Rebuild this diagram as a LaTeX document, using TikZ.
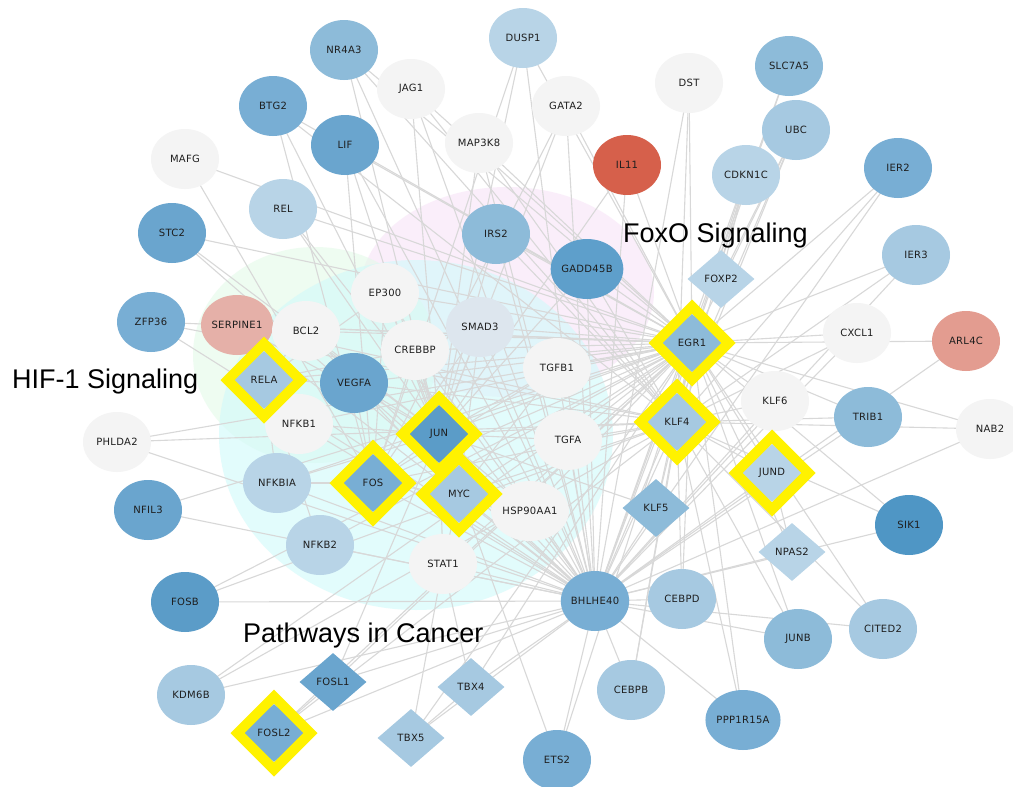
\documentclass[tikz,border=0pt]{standalone}
\usepackage{fontspec}
\usetikzlibrary{shapes.geometric}
\newfontfamily\labfont[LetterSpace=3]{DejaVu Sans}
\newfontfamily\titfont{Liberation Sans}
\pgfdeclarelayer{bglayer}
\pgfdeclarelayer{edgelayer}
\pgfsetlayers{bglayer,edgelayer,main}
\definecolor{wht}{HTML}{F4F4F4}
\definecolor{cA}{HTML}{4F96C5}
\definecolor{cB}{HTML}{5B9CC8}
\definecolor{cC}{HTML}{5E9FCB}
\definecolor{cD}{HTML}{6AA5CE}
\definecolor{cE}{HTML}{78AED4}
\definecolor{cF}{HTML}{8DBBD9}
\definecolor{cG}{HTML}{A6C9E1}
\definecolor{cH}{HTML}{B8D4E7}
\definecolor{cI}{HTML}{DDE6EE}
\definecolor{redn}{HTML}{D6604B}
\definecolor{salm}{HTML}{E39C90}
\definecolor{rosen}{HTML}{E5B0A8}
\definecolor{edgegray}{HTML}{D8D8D8}
\definecolor{pinkbg}{HTML}{F8E4F8}
\definecolor{greenbg}{HTML}{E3FAE9}
\definecolor{cyanbg}{HTML}{D0FAFA}
\definecolor{labtxt}{HTML}{1E1E1E}
\tikzset{
  lab/.style={font=\labfont\fontsize{10}{12}\selectfont, text=labtxt},
  cnode/.style={ellipse, draw=none, minimum width=68pt, minimum height=60pt, inner sep=0pt, lab},
  dnode/.style={diamond, draw=none, minimum width=67pt, minimum height=58pt, inner sep=0pt, lab},
  yframe/.style={diamond, draw=yellow, line width=10pt, minimum width=77pt, minimum height=77pt, inner sep=0pt},
  edge/.style={draw=edgegray, line width=1.1pt},
  blob/.style={fill opacity=0.6, draw=none},
  title/.style={font=\titfont\fontsize{27}{30}\selectfont, text=black, inner sep=0pt}
}
\begin{document}
\begin{tikzpicture}[x=1pt, y=-1pt]
\useasboundingbox (0,0) rectangle (1013,787);
\begin{pgfonlayer}{bglayer}
\fill[white] (0,0) rectangle (1013,787);
\fill[pinkbg, blob] (507,292) ellipse [x radius=147, y radius=105];
\fill[greenbg, blob] (315,355) ellipse [x radius=122, y radius=108];
\fill[cyanbg, blob] (416,435) ellipse [x radius=197, y radius=175];
\end{pgfonlayer}
% circle nodes
\node[cnode, fill=cF] (NR4A3) at (344,50) {NR4A3};
\node[cnode, fill=wht] (JAG1) at (411,89) {JAG1};
\node[cnode, fill=cE] (BTG2) at (273,106) {BTG2};
\node[cnode, fill=cD] (LIF) at (345,145) {LIF};
\node[cnode, fill=wht] (MAP3K8) at (479,143) {MAP3K8};
\node[cnode, fill=wht] (MAFG) at (185,159) {MAFG};
\node[cnode, fill=cH] (REL) at (283,209) {REL};
\node[cnode, fill=cD] (STC2) at (172,233) {STC2};
\node[cnode, fill=cF] (IRS2) at (496,234) {IRS2};
\node[cnode, fill=wht] (EP300) at (385,293) {EP300};
\node[cnode, fill=cE] (ZFP36) at (151,322) {ZFP36};
\node[cnode, fill=rosen] (SERPINE1) at (237,325) {SERPINE1};
\node[cnode, fill=wht] (BCL2) at (306,331) {BCL2};
\node[cnode, fill=cI] (SMAD3) at (480,327) {SMAD3};
\node[cnode, fill=wht] (CREBBP) at (415,350) {CREBBP};
\node[cnode, fill=cD] (VEGFA) at (354,383) {VEGFA};
\node[cnode, fill=cH] (DUSP1) at (523,38) {DUSP1};
\node[cnode, fill=wht] (GATA2) at (566,106) {GATA2};
\node[cnode, fill=wht] (DST) at (689,83) {DST};
\node[cnode, fill=cF] (SLC7A5) at (789,66) {SLC7A5};
\node[cnode, fill=cG] (UBC) at (796,130) {UBC};
\node[cnode, fill=redn] (IL11) at (627,165) {IL11};
\node[cnode, fill=cH] (CDKN1C) at (746,175) {CDKN1C};
\node[cnode, fill=cE] (IER2) at (898,168) {IER2};
\node[cnode, fill=cC] (GADD45B) at (587,269) {GADD45B};
\node[cnode, fill=cG] (IER3) at (916,255) {IER3};
\node[cnode, fill=wht] (CXCL1) at (857,333) {CXCL1};
\node[cnode, fill=salm] (ARL4C) at (966,341) {ARL4C};
\node[cnode, fill=wht] (TGFB1) at (557,368) {TGFB1};
\node[cnode, fill=wht] (PHLDA2) at (117,442) {PHLDA2};
\node[cnode, fill=wht] (NFKB1) at (299,424) {NFKB1};
\node[cnode, fill=cH] (NFKBIA) at (277,483) {NFKBIA};
\node[cnode, fill=cD] (NFIL3) at (148,510) {NFIL3};
\node[cnode, fill=cH] (NFKB2) at (320,545) {NFKB2};
\node[cnode, fill=wht] (STAT1) at (443,564) {STAT1};
\node[cnode, fill=cB] (FOSB) at (185,602) {FOSB};
\node[cnode, fill=cG] (KDM6B) at (191,695) {KDM6B};
\node[cnode, fill=wht] (TGFA) at (568,440) {TGFA};
\node[cnode, fill=wht] (KLF6) at (775,401) {KLF6};
\node[cnode, fill=cF] (TRIB1) at (868,417) {TRIB1};
\node[cnode, fill=wht] (NAB2) at (990,429) {NAB2};
\node[cnode, fill=wht] (HSP90AA1) at (530,511) {HSP90AA1};
\node[cnode, fill=cA] (SIK1) at (909,525) {SIK1};
\node[cnode, fill=cE] (BHLHE40) at (595,601) {BHLHE40};
\node[cnode, fill=cG] (CEBPD) at (682,599) {CEBPD};
\node[cnode, fill=cF] (JUNB) at (798,639) {JUNB};
\node[cnode, fill=cG] (CITED2) at (883,629) {CITED2};
\node[cnode, fill=cG] (CEBPB) at (631,690) {CEBPB};
\node[cnode, fill=cE] (PPP1R15A) at (743,720) {PPP1R15A};
\node[cnode, fill=cE] (ETS2) at (557,760) {ETS2};
% diamond nodes
\node[dnode, fill=cG] (RELA) at (264,380) {RELA};
\node[dnode, fill=cH] (FOXP2) at (721,279) {FOXP2};
\node[dnode, fill=cF] (EGR1) at (692,343) {EGR1};
\node[dnode, fill=cB] (JUN) at (439,434) {JUN};
\node[dnode, fill=cE] (FOS) at (373,483) {FOS};
\node[dnode, fill=cG] (MYC) at (459,494) {MYC};
\node[dnode, fill=cD] (FOSL1) at (333,682) {FOSL1};
\node[dnode, fill=cE] (FOSL2) at (274,733) {FOSL2};
\node[dnode, fill=cG] (TBX4) at (471,687) {TBX4};
\node[dnode, fill=cG] (TBX5) at (411,738) {TBX5};
\node[dnode, fill=cG] (KLF4) at (677,422) {KLF4};
\node[dnode, fill=cH] (JUND) at (772,473) {JUND};
\node[dnode, fill=cF] (KLF5) at (656,508) {KLF5};
\node[dnode, fill=cH] (NPAS2) at (792,552) {NPAS2};
% yellow frames
\foreach \n in {RELA,EGR1,JUN,FOS,MYC,FOSL2,KLF4,JUND}
  \node[yframe] (y\n) at (\n.center) {};
% edges
\begin{pgfonlayer}{edgelayer}
\foreach \a/\b in {NR4A3/EGR1, NR4A3/JUN, NR4A3/KLF4, NR4A3/BHLHE40,
JAG1/EGR1, JAG1/JUN, JAG1/BHLHE40, JAG1/KLF4,
BTG2/EGR1, BTG2/JUN, BTG2/KLF4, BTG2/FOS,
LIF/EGR1, LIF/JUN, LIF/FOS, LIF/BHLHE40,
MAP3K8/EGR1, MAP3K8/JUN, MAP3K8/BHLHE40, MAP3K8/KLF4,
MAFG/EGR1, MAFG/FOS,
REL/EGR1, REL/JUN, REL/BHLHE40,
STC2/EGR1, STC2/JUN, STC2/BHLHE40,
IRS2/EGR1, IRS2/KLF4, IRS2/BHLHE40, IRS2/JUN,
EP300/EGR1, EP300/JUN, EP300/FOS, EP300/MYC, EP300/RELA, EP300/BHLHE40,
ZFP36/EGR1, ZFP36/BHLHE40, ZFP36/KLF4,
SERPINE1/EGR1, SERPINE1/JUN, SERPINE1/BHLHE40, SERPINE1/KLF4,
BCL2/EGR1, BCL2/JUN, BCL2/MYC, BCL2/RELA, BCL2/BHLHE40,
SMAD3/EGR1, SMAD3/JUN, SMAD3/MYC, SMAD3/FOS, SMAD3/BHLHE40,
CREBBP/EGR1, CREBBP/JUN, CREBBP/MYC, CREBBP/FOS, CREBBP/RELA, CREBBP/BHLHE40,
RELA/NFKB1, RELA/NFKBIA, RELA/VEGFA, RELA/EGR1, RELA/BHLHE40,
VEGFA/EGR1, VEGFA/JUN, VEGFA/FOS, VEGFA/KLF4, VEGFA/BHLHE40,
DUSP1/EGR1, DUSP1/JUN, DUSP1/BHLHE40, DUSP1/FOS,
GATA2/EGR1, GATA2/JUN, GATA2/BHLHE40, GATA2/FOS,
DST/EGR1, DST/KLF4, DST/BHLHE40,
SLC7A5/EGR1, SLC7A5/BHLHE40,
UBC/FOXP2, UBC/KLF4, UBC/BHLHE40, UBC/EGR1,
IL11/EGR1, IL11/JUN, IL11/BHLHE40,
CDKN1C/FOXP2, CDKN1C/EGR1, CDKN1C/KLF4, CDKN1C/BHLHE40,
IER2/EGR1, IER2/KLF4, IER2/BHLHE40,
GADD45B/EGR1, GADD45B/JUN, GADD45B/BHLHE40, GADD45B/KLF4,
IER3/EGR1, IER3/BHLHE40, IER3/KLF4,
CXCL1/EGR1, CXCL1/KLF4, CXCL1/BHLHE40,
ARL4C/EGR1, ARL4C/BHLHE40,
TGFB1/EGR1, TGFB1/JUN, TGFB1/MYC, TGFB1/FOS, TGFB1/BHLHE40,
PHLDA2/EGR1, PHLDA2/KLF4, PHLDA2/BHLHE40,
NFKB1/EGR1, NFKB1/JUN, NFKB1/BHLHE40,
NFKBIA/EGR1, NFKBIA/JUN, NFKBIA/BHLHE40, NFKBIA/FOS,
NFIL3/EGR1, NFIL3/BHLHE40,
NFKB2/RELA, NFKB2/EGR1, NFKB2/BHLHE40,
STAT1/EGR1, STAT1/JUN, STAT1/MYC, STAT1/BHLHE40, STAT1/TBX5, STAT1/TBX4,
FOSB/EGR1, FOSB/BHLHE40, FOSB/KLF4,
KDM6B/EGR1, KDM6B/KLF4, KDM6B/BHLHE40,
FOSL1/EGR1, FOSL1/JUN, FOSL1/BHLHE40, FOSL1/FOSL2,
FOSL2/EGR1, FOSL2/BHLHE40, FOSL2/KLF4,
TBX4/BHLHE40, TBX4/TBX5, TBX4/EGR1,
TBX5/BHLHE40, TBX5/EGR1,
TGFA/EGR1, TGFA/JUN, TGFA/KLF4, TGFA/BHLHE40,
KLF6/EGR1, KLF6/KLF4, KLF6/BHLHE40, KLF6/JUND,
TRIB1/EGR1, TRIB1/KLF4, TRIB1/BHLHE40,
NAB2/EGR1, NAB2/KLF4, NAB2/BHLHE40,
JUND/EGR1, JUND/BHLHE40, JUND/KLF4,
HSP90AA1/EGR1, HSP90AA1/JUN, HSP90AA1/BHLHE40, HSP90AA1/MYC,
KLF5/EGR1, KLF5/BHLHE40, KLF5/KLF4, KLF5/JUN,
SIK1/EGR1, SIK1/BHLHE40, SIK1/KLF4,
NPAS2/EGR1, NPAS2/BHLHE40, NPAS2/JUND,
CEBPD/EGR1, CEBPD/BHLHE40, CEBPD/KLF4,
JUNB/EGR1, JUNB/BHLHE40, JUNB/KLF4,
CITED2/EGR1, CITED2/BHLHE40, CITED2/KLF4,
CEBPB/EGR1, CEBPB/BHLHE40, CEBPB/KLF4,
PPP1R15A/EGR1, PPP1R15A/BHLHE40, PPP1R15A/KLF4,
ETS2/EGR1, ETS2/BHLHE40, ETS2/JUN,
JUN/FOS, JUN/MYC, FOS/MYC, JUN/EGR1, KLF4/EGR1, EGR1/BHLHE40, KLF4/BHLHE40,
JUN/BHLHE40, FOS/BHLHE40, MYC/BHLHE40, FOS/EGR1, MYC/EGR1, FOS/KLF4, MYC/KLF4, JUN/KLF4}
  \draw[edge] (\a.center) -- (\b.center);
\end{pgfonlayer}
% pathway titles
\node[title, anchor=base west] (tHIF) at (12,388) {HIF-1 Signaling};
\node[title, anchor=base west] (tFOXO) at (623,242) {FoxO Signaling};
\node[title, anchor=base west] (tPIC) at (243,642) {Pathways in Cancer};
\end{tikzpicture}
\end{document}
